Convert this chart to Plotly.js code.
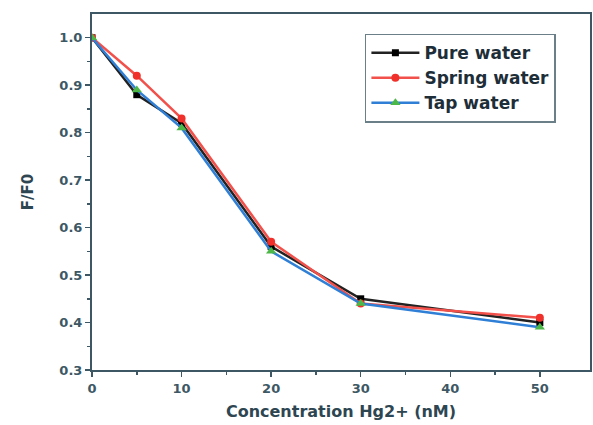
<!DOCTYPE html>
<html><head><meta charset="utf-8">
<script src="https://cdn.plot.ly/plotly-3.0.1.min.js"></script>
<style>html,body{margin:0;padding:0;background:#fff}#c{width:593px;height:425px}</style>
</head><body><div id="c"></div>
<script>
const conc = [0, 5, 10, 20, 30, 50];
const pureWater = [1.0, 0.88, 0.82, 0.56, 0.45, 0.40];
const springWater = [1.0, 0.92, 0.83, 0.57, 0.44, 0.41];
const tapWater = [1.0, 0.89, 0.81, 0.55, 0.44, 0.39];
const seriesNames = ['Pure water', 'Spring water', 'Tap water'];

const axisColor = '#3d5864';
const fam = 'DejaVu Sans, Liberation Sans, Arial, sans-serif';
const traces = [
  {x: conc, y: pureWater, name: seriesNames[0], mode: 'lines+markers',
   line: {color: '#222222', width: 2.5}, marker: {symbol: 'square', size: 7, color: '#000000'}},
  {x: conc, y: springWater, name: seriesNames[1], mode: 'lines+markers',
   line: {color: '#f2504a', width: 2.5}, marker: {symbol: 'circle', size: 8, color: '#f0302a'}},
  {x: conc, y: tapWater, name: seriesNames[2], mode: 'lines+markers',
   line: {color: '#2f7fd6', width: 2.5}, marker: {symbol: 'triangle-up', size: 9, color: '#4cb848'}}
];
const layout = {
  width: 593, height: 425,
  margin: {l: 92, r: 3, t: 14, b: 55},
  paper_bgcolor: '#fff', plot_bgcolor: '#fff',
  font: {family: fam, color: axisColor},
  showlegend: true,
  legend: {x: 0.548, y: 0.945, xanchor: 'left', yanchor: 'top',
    bordercolor: '#6a7f88', borderwidth: 1.5, bgcolor: '#fff',
    font: {family: fam, size: 17, color: '#1e2e38', weight: 'bold'}, tracegroupgap: 0, itemwidth: 48},
  xaxis: {range: [0, 55.6], tickvals: [0, 10, 20, 30, 40, 50],
    ticks: 'outside', ticklen: 5, tickwidth: 1.5, tickcolor: axisColor,
    minor: {tickvals: [5, 15, 25, 35, 45], ticks: 'outside', ticklen: 3, tickcolor: axisColor, tickwidth: 1.5},
    showline: true, linecolor: axisColor, linewidth: 2, mirror: true,
    showgrid: false, zeroline: false,
    tickfont: {family: fam, size: 13, color: axisColor, weight: 'bold'},
    title: {text: 'Concentration Hg2+ (nM)', font: {family: fam, size: 16, color: '#2e4652', weight: 'bold'}, standoff: 11}},
  yaxis: {range: [0.3, 1.05], tickvals: [0.3, 0.4, 0.5, 0.6, 0.7, 0.8, 0.9, 1.0],
    ticktext: ['0.3', '0.4', '0.5', '0.6', '0.7', '0.8', '0.9', '1.0'],
    ticks: 'outside', ticklen: 5, tickwidth: 1.5, tickcolor: axisColor,
    minor: {tickvals: [0.35, 0.45, 0.55, 0.65, 0.75, 0.85, 0.95], ticks: 'outside', ticklen: 3, tickcolor: axisColor, tickwidth: 1.5},
    showline: true, linecolor: axisColor, linewidth: 2, mirror: true,
    showgrid: false, zeroline: false,
    tickfont: {family: fam, size: 13, color: axisColor, weight: 'bold'},
    title: {text: 'F/F0', font: {family: fam, size: 15, color: '#2e4652', weight: 'bold'}, standoff: 22}}
};
Plotly.newPlot('c', traces, layout, {displayModeBar: false, staticPlot: true});
</script></body></html>
